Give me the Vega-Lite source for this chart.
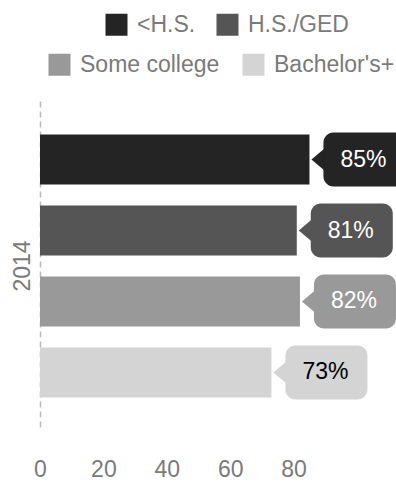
{
  "$schema": "https://vega.github.io/schema/vega-lite/v6.json",
  "width": 356,
  "height": 330,
  "autosize": {"type": "none"},
  "padding": {"left": 40, "top": 101, "right": 0, "bottom": 51},
  "config": {
    "font": "Liberation Sans",
    "view": {"stroke": null},
    "legend": {"padding": 0}
  },
  "data": {
    "values": [
      {"year": "2014", "edu": "<H.S.", "value": 85, "label": "85%"},
      {"year": "2014", "edu": "H.S./GED", "value": 81, "label": "81%"},
      {"year": "2014", "edu": "Some college", "value": 82, "label": "82%"},
      {"year": "2014", "edu": "Bachelor's+", "value": 73, "label": "73%"}
    ]
  },
  "encoding": {
    "x": {
      "field": "value",
      "type": "quantitative",
      "scale": {"domain": [0, 112.3], "nice": false},
      "axis": {
        "title": null,
        "values": [0, 20, 40, 60, 80],
        "grid": false,
        "ticks": false,
        "domain": false,
        "labelFlush": false,
        "labelFontSize": 23,
        "labelColor": "#7a7a7a",
        "labelPadding": 27
      }
    },
    "y": {
      "field": "year",
      "type": "nominal",
      "scale": {"paddingInner": 0, "paddingOuter": 0},
      "axis": {
        "title": null,
        "ticks": false,
        "labelAngle": 270,
        "labelFontSize": 23,
        "labelColor": "#7a7a7a",
        "labelPadding": 6,
        "domain": true,
        "domainColor": "#bbbbbb",
        "domainDash": [6, 4],
        "domainWidth": 1.5
      }
    },
    "yOffset": {
      "field": "edu",
      "type": "nominal",
      "scale": {
        "domain": ["<H.S.", "H.S./GED", "Some college", "Bachelor's+"],
        "paddingInner": 0.296,
        "paddingOuter": 0.472
      }
    }
  },
  "layer": [
    {
      "transform": [{"filter": {"field": "edu", "oneOf": ["<H.S.", "H.S./GED"]}}],
      "encoding": {
        "color": {
          "field": "edu",
          "type": "nominal",
          "scale": {"domain": ["<H.S.", "H.S./GED"], "range": ["#242424", "#555555"]},
          "legend": {
            "title": null,
            "orient": "none",
            "direction": "horizontal",
            "legendX": 65,
            "legendY": -88,
            "symbolType": "square",
            "symbolSize": 484,
            "symbolStrokeWidth": 0,
            "symbolOpacity": 1,
            "labelFontSize": 23,
            "labelColor": "#7a7a7a",
            "labelOffset": 9,
            "columnPadding": 20
          }
        }
      },
      "layer": [
        {"mark": {"type": "bar"}},
        {
          "mark": {"type": "bar", "xOffset": 14, "x2Offset": 96, "cornerRadius": 10, "height": 54},
          "encoding": {"x2": {"field": "value"}}
        },
        {
          "mark": {"type": "point", "shape": "M-1,0L0,-0.85L0,0.85Z", "size": 676, "filled": true, "opacity": 1, "xOffset": 15}
        },
        {
          "mark": {"type": "text", "xOffset": 54, "align": "center", "baseline": "middle", "fontSize": 23},
          "encoding": {
            "text": {"field": "label"},
            "color": {"value": "#ffffff"}
          }
        }
      ]
    },
    {
      "transform": [{"filter": {"field": "edu", "oneOf": ["Some college", "Bachelor's+"]}}],
      "encoding": {
        "color": {
          "field": "edu",
          "type": "nominal",
          "scale": {"domain": ["Some college", "Bachelor's+"], "range": ["#999999", "#d4d4d4"]},
          "legend": {
            "title": null,
            "orient": "none",
            "direction": "horizontal",
            "legendX": 8,
            "legendY": -48,
            "symbolType": "square",
            "symbolSize": 484,
            "symbolStrokeWidth": 0,
            "symbolOpacity": 1,
            "labelFontSize": 23,
            "labelColor": "#7a7a7a",
            "labelOffset": 9,
            "columnPadding": 22
          }
        }
      },
      "layer": [
        {"mark": {"type": "bar"}},
        {
          "mark": {"type": "bar", "xOffset": 14, "x2Offset": 96, "cornerRadius": 10, "height": 54},
          "encoding": {"x2": {"field": "value"}}
        },
        {
          "mark": {"type": "point", "shape": "M-1,0L0,-0.85L0,0.85Z", "size": 676, "filled": true, "opacity": 1, "xOffset": 15}
        },
        {
          "mark": {"type": "text", "xOffset": 54, "align": "center", "baseline": "middle", "fontSize": 23},
          "encoding": {
            "text": {"field": "label"},
            "color": {
              "condition": {"test": "datum.edu === \"Bachelor's+\"", "value": "#000000"},
              "value": "#ffffff"
            }
          }
        }
      ]
    }
  ],
  "resolve": {"scale": {"color": "independent"}}
}
